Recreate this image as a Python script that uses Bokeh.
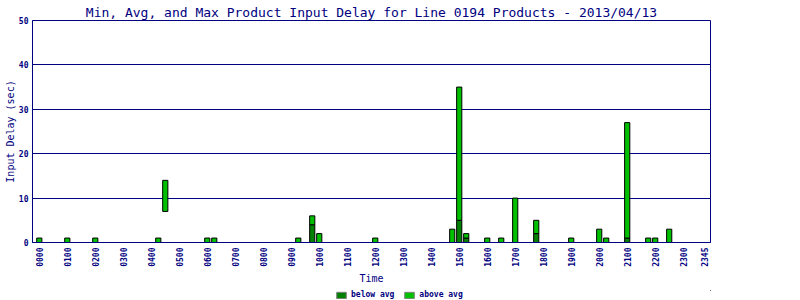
from math import pi
from bokeh.plotting import figure
from bokeh.layouts import column
from bokeh.models import ColumnDataSource, FixedTicker, Legend, LegendItem, Range1d
from bokeh.embed import file_html
from bokeh.resources import INLINE

# ---- data ----
slot_labels = ["%02d%02d" % (h, m) for h in range(24) for m in (0, 15, 30, 45)]
bar_slots = ["0000", "0100", "0200", "0415", "0430", "0600", "0615", "0915", "0945",
             "1000", "1200", "1445", "1500", "1515", "1600", "1630", "1700", "1745",
             "1900", "2000", "2015", "2100", "2145", "2200", "2230"]
min_delay = [0, 0, 0, 0, 7, 0, 0, 0, 0, 0, 0, 0, 0, 0, 0, 0, 0, 0, 0, 0, 0, 0, 0, 0, 0]
avg_delay = [0, 0, 0, 0, 7, 0, 0, 0, 4, 0, 0, 0, 5, 1, 0, 0, 0, 2, 0, 0, 0, 1, 0, 0, 0]
max_delay = [1, 1, 1, 1, 14, 1, 1, 1, 6, 2, 1, 3, 35, 2, 1, 1, 10, 5, 1, 3, 1, 27, 1, 1, 3]
tick_labels = ["0000", "0100", "0200", "0300", "0400", "0500", "0600", "0700", "0800",
               "0900", "1000", "1100", "1200", "1300", "1400", "1500", "1600", "1700",
               "1800", "1900", "2000", "2100", "2200", "2300", "2345"]
y_ticks = [0, 10, 20, 30, 40, 50]
series_names = ["below avg", "above avg"]

NAVY = "#000080"
DARK = "#008000"
LIGHT = "#00c000"
MONO = "DejaVu Sans Mono"

xs = [slot_labels.index(s) for s in bar_slots]
below = ColumnDataSource(dict(
    x=[x for x, lo, av in zip(xs, min_delay, avg_delay) if av > lo],
    bottom=[lo for lo, av in zip(min_delay, avg_delay) if av > lo],
    top=[av for lo, av in zip(min_delay, avg_delay) if av > lo],
))
above = ColumnDataSource(dict(
    x=[x for x, av, mx in zip(xs, avg_delay, max_delay) if mx > av],
    bottom=[av for av, mx in zip(avg_delay, max_delay) if mx > av],
    top=[mx for av, mx in zip(avg_delay, max_delay) if mx > av],
))

p = figure(width=800, height=289, output_backend="svg", toolbar_location=None,
           x_range=Range1d(-0.97, 95.9), y_range=Range1d(0, 50),
           min_border_left=32, min_border_right=90, min_border_top=20, min_border_bottom=47)

p.title.text = "Min, Avg, and Max Product Input Delay for Line 0194 Products - 2013/04/13"
p.title.align = "center"
p.title.text_font = MONO
p.title.text_font_size = "13px"
p.title.text_font_style = "normal"
p.title.text_color = NAVY
p.title.standoff = 2

p.vbar(x="x", bottom="bottom", top="top", width=0.74, source=below,
       fill_color=DARK, line_color="black", line_width=1)
p.vbar(x="x", bottom="bottom", top="top", width=0.74, source=above,
       fill_color=LIGHT, line_color="black", line_width=1)

# axes
tick_pos = [slot_labels.index(t) for t in tick_labels]
p.xaxis.ticker = FixedTicker(ticks=tick_pos)
p.xaxis.major_label_overrides = {pos: lab for pos, lab in zip(tick_pos, tick_labels)}
p.xaxis.major_label_orientation = pi / 2
p.yaxis.ticker = FixedTicker(ticks=y_ticks)
for ax in (p.xaxis, p.yaxis):
    ax.axis_line_color = NAVY
    ax.axis_line_width = 1
    ax.major_tick_out = 0
    ax.major_tick_in = 0
    ax.minor_tick_out = 0
    ax.minor_tick_in = 0
    ax.major_label_text_font = MONO
    ax.major_label_text_font_size = "8px"
    ax.major_label_text_font_style = "bold"
    ax.major_label_text_color = NAVY
    ax.axis_label_text_font = MONO
    ax.axis_label_text_font_size = "10px"
    ax.axis_label_text_font_style = "normal"
    ax.axis_label_text_color = NAVY
p.xaxis.axis_label = "Time"
p.yaxis.axis_label = "Input Delay (sec)"
p.xaxis.major_label_standoff = 5
p.yaxis.major_label_standoff = 4
p.xaxis.axis_label_standoff = 3
p.yaxis.axis_label_standoff = 0

p.xgrid.grid_line_color = None
p.ygrid.ticker = FixedTicker(ticks=y_ticks)
p.ygrid.grid_line_color = NAVY
p.ygrid.grid_line_width = 1
p.outline_line_color = NAVY
p.outline_line_width = 1
p.background_fill_color = "white"
p.border_fill_color = "white"

# legend strip (its renderers use the same data, but lie outside this strip's ranges)
lg = figure(width=800, height=11, output_backend="svg", toolbar_location=None,
            x_range=Range1d(-1001, -1000), y_range=Range1d(-1001, -1000),
            min_border=0, min_border_left=0, min_border_right=0,
            min_border_top=0, min_border_bottom=0)
lg.axis.visible = False
lg.grid.visible = False
lg.outline_line_color = None
r_below = lg.vbar(x="x", bottom="bottom", top="top", width=0.74, source=below,
                  fill_color=DARK, line_color="#808080", line_width=1)
r_above = lg.vbar(x="x", bottom="bottom", top="top", width=0.74, source=above,
                  fill_color=LIGHT, line_color="#808080", line_width=1)
legend = Legend(items=[LegendItem(label=series_names[0], renderers=[r_below]),
                       LegendItem(label=series_names[1], renderers=[r_above])],
                orientation="horizontal", location=(303, 1),
                glyph_width=12, glyph_height=8, label_standoff=4, spacing=9,
                padding=0, margin=0, border_line_color=None, background_fill_alpha=0,
                label_text_font=MONO, label_text_font_size="8px",
                label_text_font_style="bold", label_text_color=NAVY,
                label_height=8, label_width=10)
lg.add_layout(legend, "center")

layout = column(p, lg, spacing=0)
open("out.html", "w").write(file_html(layout, INLINE))
